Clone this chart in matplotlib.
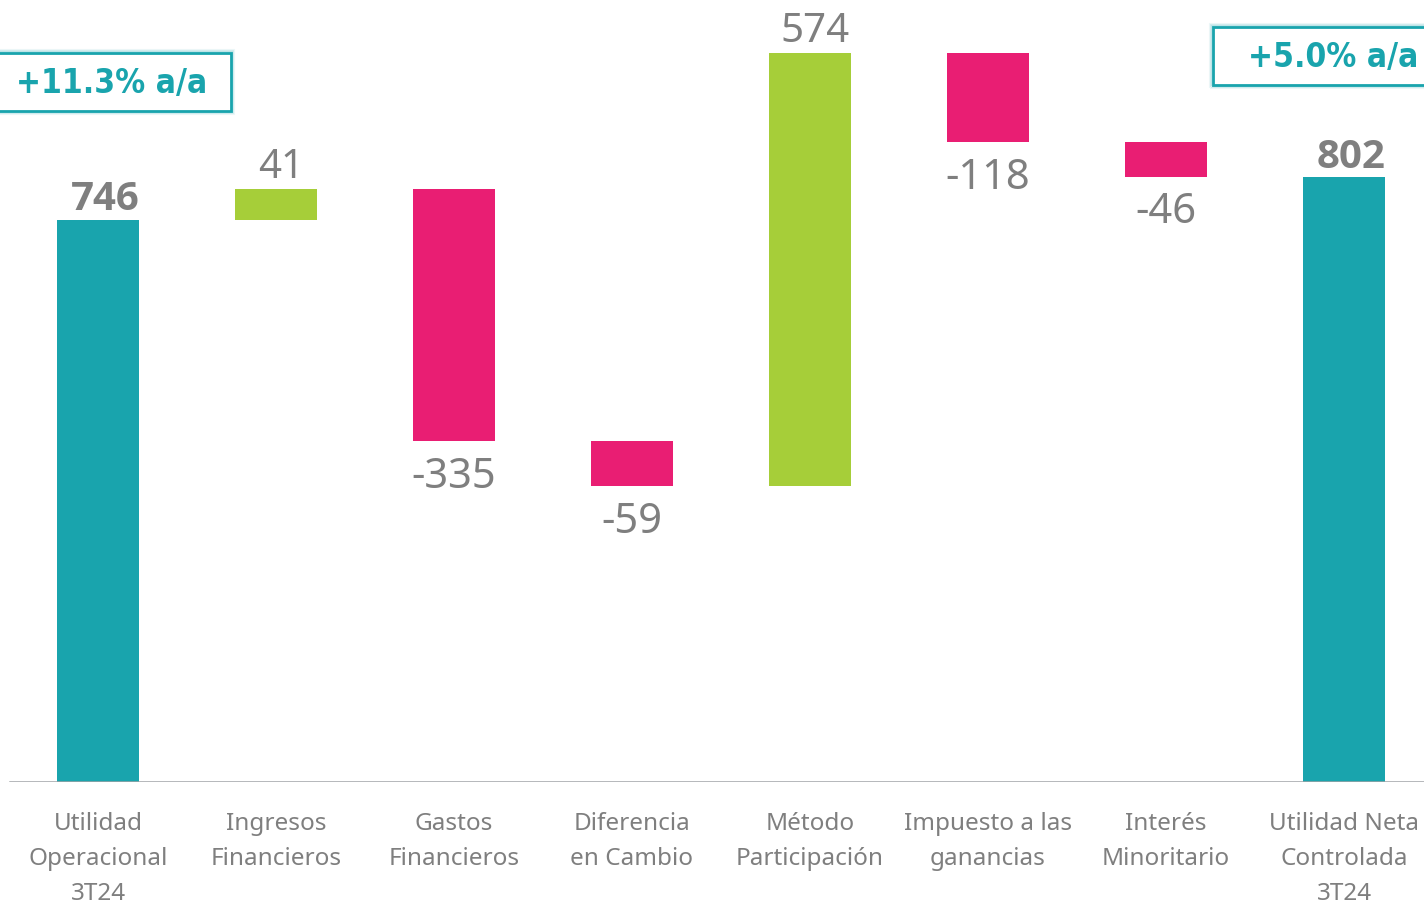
import matplotlib.pyplot as plt
from matplotlib.patches import Rectangle

categories = ['Utilidad\nOperacional\n3T24', 'Ingresos\nFinancieros', 'Gastos\nFinancieros',
              'Diferencia\nen Cambio', 'Método\nParticipación', 'Impuesto a las\nganancias',
              'Interés\nMinoritario', 'Utilidad Neta\nControlada\n3T24']
values = [746, 41, -335, -59, 574, -118, -46, 802]
kinds = ['total', 'step', 'step', 'step', 'step', 'step', 'step', 'total']
growth_labels = ['+11.3% a/a', '+5.0% a/a']

teal = '#19a4ad'
green = '#a6ce39'
pink = '#e91e73'
grey = '#7f7f7f'

fig = plt.figure(figsize=(14.24, 9.04), dpi=100)
ax = fig.add_axes([0, 121 / 904, 1, 783 / 904])

bottoms = []
heights = []
colors = []
running = 0
for v, k in zip(values, kinds):
    if k == 'total':
        bottoms.append(0)
        heights.append(v)
        colors.append(teal)
        running = v
    else:
        if v >= 0:
            bottoms.append(running)
            colors.append(green)
        else:
            bottoms.append(running + v)
            colors.append(pink)
        heights.append(abs(v))
        running += v

xs = list(range(len(categories)))
ax.bar(xs, heights, bottom=bottoms, width=0.466, color=colors, zorder=2)

for x, v, k, b, h in zip(xs, values, kinds, bottoms, heights):
    if k == 'total':
        ax.annotate(str(v), (x + 0.04, b + h), xytext=(0, 1), textcoords='offset points',
                    ha='center', va='bottom', fontsize=29, fontweight='bold', color=grey,
                    family='Open Sans')
    elif v >= 0:
        ax.annotate(str(v), (x + 0.03, b + h), xytext=(0, 1), textcoords='offset points',
                    ha='center', va='bottom', fontsize=29, color=grey, family='Noto Sans')
    else:
        ax.annotate(str(v), (x, b), xytext=(0, -10), textcoords='offset points',
                    ha='center', va='top', fontsize=30, color=grey, family='Noto Sans')

ax.set_xlim(-98 / 178, (1424 - 98) / 178)
ax.set_ylim(0, 783 / 0.754)
ax.axhline(0, xmin=10 / 1424, xmax=1, color='#a0a3a6', lw=1.8, zorder=3)
ax.axis('off')

for x, c in zip(xs, categories):
    ax.annotate(c, (x, 0), xytext=(0, -21), textcoords='offset points', ha='center', va='top',
                fontsize=17.5, color=grey, family='Noto Sans', linespacing=1.6)

# growth boxes
boxes = [(-10, 792, 241, 58, 112, 821), (1213, 818, 230, 58, 1248, 846)]
for (x0, y0, w, h, tx, ty), lab in zip(boxes, growth_labels):
    for i, a in enumerate([0.08, 0.12, 0.18]):
        g = 3 - i
        fig.patches.append(Rectangle((x0 - g, y0 - g), w + 2 * g, h + 2 * g, transform=None,
                                     facecolor='none', edgecolor=teal, lw=1.5, alpha=a))
    fig.patches.append(Rectangle((x0, y0), w, h, transform=None, facecolor='white',
                                 edgecolor=teal, lw=2))
    ha = 'center' if tx < 700 else 'left'
    fig.text(tx / 1424, ty / 904, lab, ha=ha, va='center', fontsize=24, fontweight='bold',
             color=teal, family='DejaVu Sans', fontstretch='condensed')

fig.savefig('out.png', dpi=100, facecolor='white')
